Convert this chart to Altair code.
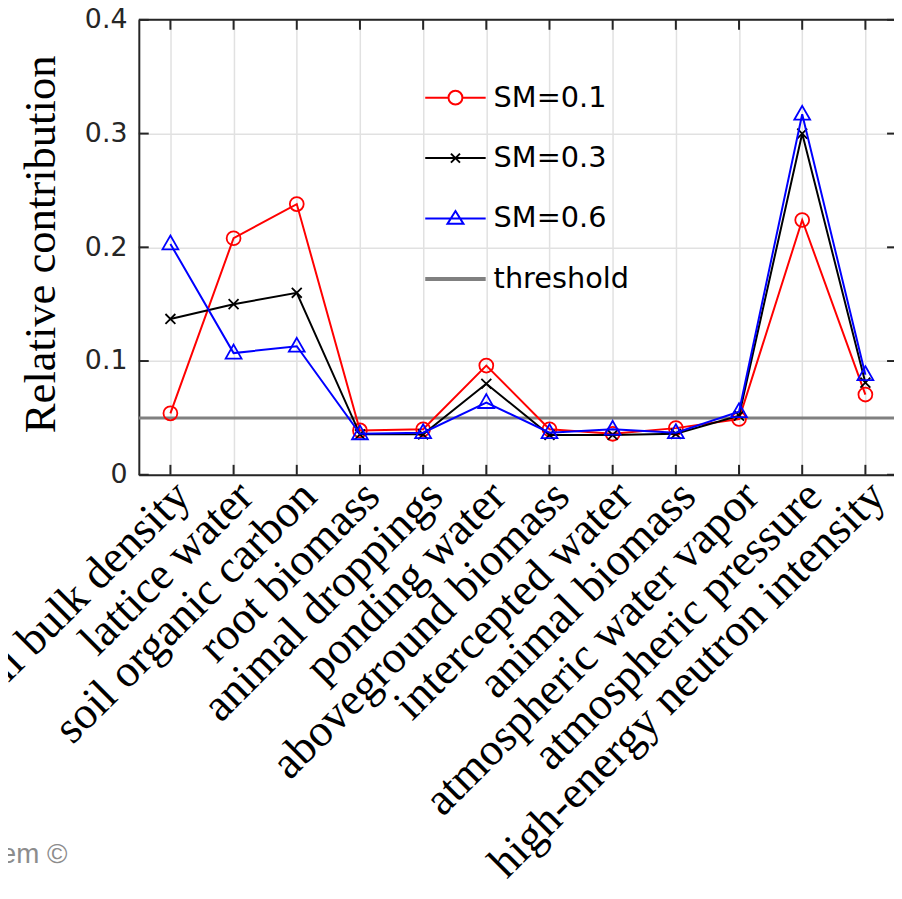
import altair as alt
import pandas as pd

# ---------------- data ----------------
categories = ["soil bulk density", "lattice water", "soil organic carbon", "root biomass",
              "animal droppings", "ponding water", "aboveground biomass", "intercepted water",
              "animal biomass", "atmospheric water vapor", "atmospheric pressure",
              "high-energy neutron intensity"]
sm_01 = [0.054, 0.208, 0.238, 0.039, 0.040, 0.096, 0.040, 0.036, 0.041, 0.049, 0.224, 0.0705]
sm_03 = [0.137, 0.150, 0.160, 0.0355, 0.0355, 0.080, 0.035, 0.035, 0.036, 0.052, 0.300, 0.081]
sm_06 = [0.203, 0.107, 0.113, 0.036, 0.037, 0.0635, 0.037, 0.040, 0.037, 0.0555, 0.317, 0.088]
threshold = 0.05
series_names = ["SM=0.1", "SM=0.3", "SM=0.6", "threshold"]
series_colors = ["#ff0000", "#000000", "#0000ff", "#808080"]
y_ticks = [0, 0.1, 0.2, 0.3, 0.4]
title_text = "of estimated soil moisture"
y_title = "Relative contribution"
watermark = "em \u00a9"

# ---------------- layout ----------------
PLOT_W = 762      # visible plot width (frame continues beyond page edge)
SCALE_W = 765     # x range (right frame at page edge, cropped)
PLOT_H = 459
AXIS_C = "#262626"
TICK_LEN = 10

marker_paths = {
    "SM=0.1": "M0.7,0A0.7,0.7 0 1,1 -0.7,0A0.7,0.7 0 1,1 0.7,0",
    "SM=0.3": "M-0.5,-0.5L0.5,0.5M-0.5,0.5L0.5,-0.5",
    "SM=0.6": "M0,-0.85L0.8,0.55L-0.8,0.55Z",
}
legend_paths = [
    "M-2,0H-0.46M0.46,0H2M0.46,0A0.46,0.46 0 1,1 -0.46,0A0.46,0.46 0 1,1 0.46,0",
    "M-2,0H2M-0.3,-0.3L0.3,0.3M-0.3,0.3L0.3,-0.3",
    "M-2,0H2M0,-0.5L0.53,0.35L-0.53,0.35Z",
    "M-2,-0.066H2M-2,0.066H2",
]

series_values = {"SM=0.1": sm_01, "SM=0.3": sm_03, "SM=0.6": sm_06}
rows = []
for name, vals in series_values.items():
    for c, v in zip(categories, vals):
        rows.append({"category": c, "series": name, "value": v})
df = pd.DataFrame(rows)
df_cat = pd.DataFrame({"category": categories})
df_y = pd.DataFrame({"value": y_ticks})
df_thr = pd.DataFrame({"value": [threshold]})
df_leg = pd.DataFrame({"series": series_names})
df_title = pd.DataFrame({"t": [title_text]})
df_wm = pd.DataFrame({"t": [watermark]})

x_enc = alt.X(
    "category:N",
    scale=alt.Scale(type="point", domain=categories, range=[0, SCALE_W], padding=0.5),
    sort=categories,
    axis=alt.Axis(
        title=None, labelAngle=315, labelAlign="right", labelBaseline="middle",
        labelFont="Liberation Serif", labelFontSize=46, labelColor="black",
        labelPadding=14, labelOffset=12, labelLimit=2000, ticks=False, tickSize=0,
        domainColor=AXIS_C, domainWidth=2, grid=True, gridColor="#e1e1e1", gridWidth=1.5,
        labelOverlap=False,
    ),
)
y_enc = alt.Y(
    "value:Q",
    scale=alt.Scale(domain=[0, 0.4], nice=False, zero=True),
    axis=alt.Axis(
        values=y_ticks, format="~g", title=y_title,
        titleFont="Liberation Serif", titleFontSize=45, titleFontWeight="normal",
        titleColor="black", titleAngle=270, titleAlign="center", titleBaseline="alphabetic",
        titleX=-85, titleY=226,
        labelFont="DejaVu Sans", labelFontSize=27, labelColor=AXIS_C, labelPadding=12,
        ticks=False, tickSize=0, domainColor=AXIS_C, domainWidth=2,
        grid=True, gridColor="#e1e1e1", gridWidth=1.5,
    ),
)

layers = []

# threshold line
layers.append(
    alt.Chart(df_thr).mark_rule(color="#808080", strokeWidth=3).encode(
        y=y_enc, x=alt.value(0), x2=alt.value(SCALE_W)
    )
)

# series lines and markers
for name, color in zip(series_names[:3], series_colors[:3]):
    sub = df[df.series == name]
    layers.append(
        alt.Chart(sub).mark_line(color=color, strokeWidth=2).encode(x=x_enc, y=y_enc)
    )
    layers.append(
        alt.Chart(sub).mark_point(filled=False, color=color, strokeWidth=1.8, opacity=1).encode(
            x=x_enc, y=y_enc,
            shape=alt.value(marker_paths[name]), size=alt.value(400),
        )
    )

# frame: top line and right line
layers.append(
    alt.Chart(df_thr).mark_rule(color=AXIS_C, strokeWidth=2).encode(
        x=alt.value(0), x2=alt.value(SCALE_W), y=alt.value(0)
    )
)
layers.append(
    alt.Chart(df_thr).mark_rule(color=AXIS_C, strokeWidth=2).encode(
        x=alt.value(SCALE_W), y=alt.value(0), y2=alt.value(PLOT_H)
    )
)
# inward ticks
layers.append(
    alt.Chart(df_cat).mark_rule(color=AXIS_C, strokeWidth=2).encode(
        x=x_enc, y=alt.value(PLOT_H), y2=alt.value(PLOT_H - TICK_LEN)
    )
)
layers.append(
    alt.Chart(df_cat).mark_rule(color=AXIS_C, strokeWidth=2).encode(
        x=x_enc, y=alt.value(0), y2=alt.value(TICK_LEN)
    )
)
layers.append(
    alt.Chart(df_y).mark_rule(color=AXIS_C, strokeWidth=2).encode(
        y=y_enc, x=alt.value(0), x2=alt.value(TICK_LEN)
    )
)
layers.append(
    alt.Chart(df_y).mark_rule(color=AXIS_C, strokeWidth=2).encode(
        y=y_enc, x=alt.value(SCALE_W - TICK_LEN), x2=alt.value(SCALE_W)
    )
)

legend_kw = dict(
    orient="none", legendX=303, legendY=62, title=None,
    labelFont="DejaVu Sans", labelFontSize=29, labelColor="black",
    symbolSize=930, symbolStrokeWidth=2, symbolOpacity=1,
    labelOffset=22, rowPadding=29, padding=0,
)
# legend-only layer
layers.append(
    alt.Chart(df_leg).mark_point(filled=False, opacity=0, strokeWidth=2).encode(
        color=alt.Color("series:N", scale=alt.Scale(domain=series_names, range=series_colors),
                        legend=alt.Legend(**legend_kw)),
        shape=alt.Shape("series:N", scale=alt.Scale(domain=series_names, range=legend_paths),
                        legend=alt.Legend(**legend_kw)),
    )
)

# title (cropped at top of the image) and watermark
layers.append(
    alt.Chart(df_title).mark_text(
        font="Liberation Serif", fontSize=49, color="black", align="center", baseline="alphabetic"
    ).encode(text="t:N", x=alt.value(346), y=alt.value(-13))
)
layers.append(
    alt.Chart(df_wm).mark_text(
        font="Liberation Sans", fontSize=28, color="#8c8c8c", align="right", baseline="alphabetic"
    ).encode(text="t:N", x=alt.value(-72), y=alt.value(851))
)

chart = alt.layer(*layers).properties(
    width=PLOT_W, height=PLOT_H,
    autosize=alt.AutoSizeParams(type="none"),
    padding={"left": 132, "top": 8, "right": 0, "bottom": 412},
).configure_view(stroke=None)

chart.save("out.html", embed_options={"renderer": "svg", "actions": False})
